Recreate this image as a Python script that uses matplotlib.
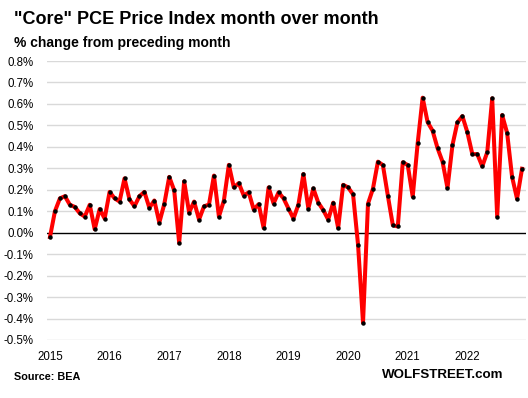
import matplotlib
matplotlib.use("Agg")
import matplotlib.pyplot as plt
import numpy as np

# Core PCE month-over-month % change, Jan 2015 - Dec 2022
values = [
    # 2015
    -0.02, 0.10, 0.16, 0.17, 0.13, 0.12, 0.09, 0.075, 0.13, 0.016, 0.11, 0.066,
    # 2016
    0.19, 0.16, 0.145, 0.253, 0.155, 0.123, 0.17, 0.19, 0.116, 0.15, 0.047, 0.133,
    # 2017
    0.26, 0.197, -0.048, 0.239, 0.094, 0.145, 0.061, 0.123, 0.131, 0.266, 0.075, 0.15,
    # 2018
    0.316, 0.211, 0.231, 0.173, 0.188, 0.108, 0.133, 0.022, 0.211, 0.136, 0.188, 0.16,
    # 2019
    0.1125, 0.066, 0.131, 0.273, 0.1125, 0.206, 0.14, 0.105, 0.061, 0.14, 0.022, 0.223,
    # 2020
    0.211, 0.178, -0.056, -0.42, 0.135, 0.205, 0.331, 0.315, 0.172, 0.035, 0.029, 0.328,
    # 2021
    0.315, 0.168, 0.417, 0.629, 0.515, 0.475, 0.394, 0.331, 0.208, 0.408, 0.514, 0.543,
    # 2022
    0.468, 0.366, 0.366, 0.309, 0.375, 0.626, 0.075, 0.548, 0.465, 0.26, 0.158, 0.298,
]
years = ["2015", "2016", "2017", "2018", "2019", "2020", "2021", "2022"]
y_ticks = [0.8, 0.7, 0.6, 0.5, 0.4, 0.3, 0.2, 0.1, 0.0, -0.1, -0.2, -0.3, -0.4, -0.5]

title = '"Core" PCE Price Index month over month'
subtitle = "% change from preceding month"
source = "Source: BEA"
brand = "WOLFSTREET.com"

plt.rcParams['font.family'] = ['Liberation Sans', 'DejaVu Sans']

fig = plt.figure(figsize=(5.28, 3.98), dpi=100)
ax = fig.add_axes([47/528, 58/398, 479/528, 279/398])

x = np.arange(len(values))
ax.plot(x, values, color="#ff0000", lw=2.9, solid_joinstyle="round", zorder=3)
ax.plot(x, values, linestyle="none", marker="o", markersize=2.2,
        color="black", zorder=4)

ax.set_ylim(-0.5, 0.8)
ax.set_xlim(-0.6, 95.8)
ax.set_yticks(y_ticks)
ax.set_yticklabels([f"{v:.1f}%" for v in y_ticks])
ax.set_xticks(np.arange(len(years)) * 12)
ax.set_xticklabels(years)

for v in y_ticks:
    if v != 0:
        ax.axhline(v, color="#d9d9d9", lw=1.0, zorder=1)
ax.axhline(0, color="black", lw=1.0, zorder=2)

for s in ax.spines.values():
    s.set_visible(False)
ax.tick_params(axis="both", length=0, labelsize=8.3, colors="black")
ax.tick_params(axis="y", pad=9.5)
ax.tick_params(axis="x", pad=8)

fig.text(14/528, 1 - 20/398, title, fontsize=13.0, fontweight="bold",
         ha="left", va="center")
fig.text(14/528, 1 - 43/398, subtitle, fontsize=10, fontweight="bold",
         ha="left", va="center")
fig.text(14/528, 1 - 377/398, source, fontsize=7.8, fontweight="bold",
         ha="left", va="center")
fig.text(503/528, 1 - 375/398, brand, fontsize=9.6, fontweight="bold",
         ha="right", va="center")

fig.savefig("out.png", dpi=100)
